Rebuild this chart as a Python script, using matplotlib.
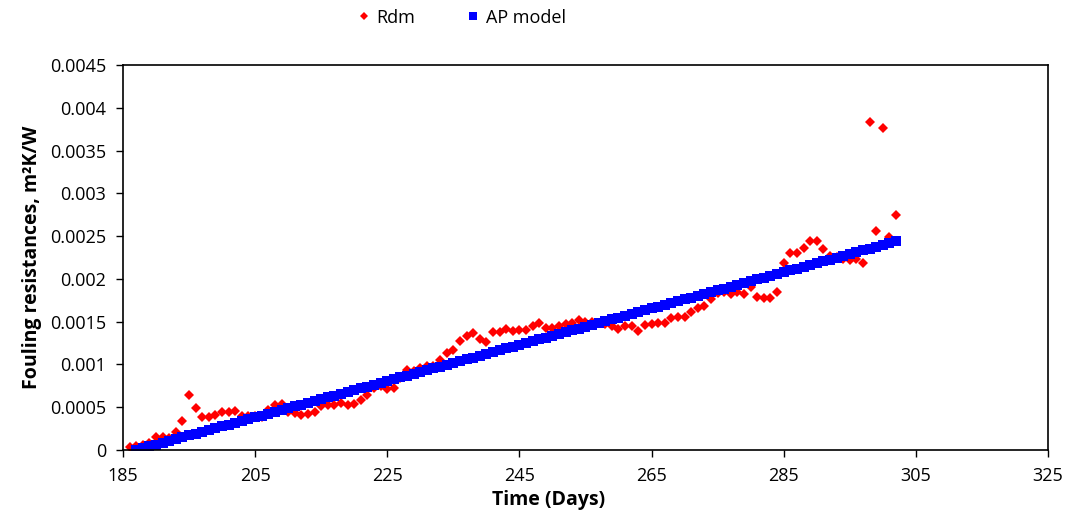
import numpy as np
import matplotlib
matplotlib.use('Agg')
import matplotlib.pyplot as plt
from matplotlib.ticker import FuncFormatter

plt.rcParams['font.family'] = ['Open Sans', 'DejaVu Sans']

# measured fouling resistance (Rdm), one value per day
rdm_days = list(range(186, 303))
rdm = [0.00004, 0.00005, 0.00006, 0.00008, 0.000156, 0.000156, 0.00014, 0.00021, 0.00034, 0.00064,
       0.00049, 0.00039, 0.00039, 0.00041, 0.00044, 0.00044, 0.00046, 0.00040, 0.00040, 0.00040,
       0.00039, 0.00047, 0.00053, 0.00054, 0.00044, 0.00043, 0.00041, 0.00042, 0.00045, 0.00052,
       0.00053, 0.00053, 0.00055, 0.00053, 0.00054, 0.00059, 0.00064, 0.00073, 0.00075, 0.00071,
       0.00073, 0.00084, 0.00094, 0.00092, 0.00096, 0.00098, 0.00098, 0.00105, 0.00113, 0.00117,
       0.00127, 0.00133, 0.00137, 0.00130, 0.00126, 0.00138, 0.00138, 0.00141, 0.00139, 0.00140,
       0.00140, 0.00145, 0.00148, 0.00143, 0.00143, 0.00145, 0.00147, 0.00149, 0.00152, 0.00150,
       0.00150, 0.00149, 0.00147, 0.00145, 0.00141, 0.00145, 0.00145, 0.00139, 0.00146, 0.00147,
       0.00148, 0.00148, 0.00154, 0.00156, 0.00156, 0.00161, 0.00166, 0.00168, 0.00177, 0.00183,
       0.00185, 0.00182, 0.00185, 0.00182, 0.00191, 0.00179, 0.00178, 0.00178, 0.00185, 0.00219,
       0.00230, 0.00230, 0.00236, 0.00244, 0.00244, 0.00235, 0.00227, 0.00226, 0.00223, 0.00222,
       0.00223, 0.00219, 0.00383, 0.00256, 0.00376, 0.00249, 0.00275]

# AP model values, one per day
ap_days = list(range(187, 303))
ap = [0.000000, 0.000021, 0.000042, 0.000064, 0.000085, 0.000106, 0.000127, 0.000148, 0.000170, 0.000191,
      0.000212, 0.000233, 0.000254, 0.000276, 0.000297, 0.000318, 0.000339, 0.000360, 0.000382, 0.000403,
      0.000424, 0.000445, 0.000466, 0.000488, 0.000509, 0.000530, 0.000551, 0.000572, 0.000594, 0.000615,
      0.000636, 0.000657, 0.000678, 0.000700, 0.000721, 0.000742, 0.000763, 0.000784, 0.000806, 0.000827,
      0.000848, 0.000869, 0.000890, 0.000912, 0.000933, 0.000954, 0.000975, 0.000996, 0.001018, 0.001039,
      0.001060, 0.001081, 0.001102, 0.001124, 0.001145, 0.001166, 0.001187, 0.001208, 0.001230, 0.001251,
      0.001272, 0.001293, 0.001314, 0.001336, 0.001357, 0.001378, 0.001399, 0.001420, 0.001442, 0.001463,
      0.001484, 0.001505, 0.001526, 0.001548, 0.001569, 0.001590, 0.001611, 0.001632, 0.001654, 0.001675,
      0.001696, 0.001717, 0.001738, 0.001760, 0.001781, 0.001802, 0.001823, 0.001844, 0.001866, 0.001887,
      0.001908, 0.001929, 0.001950, 0.001972, 0.001993, 0.002014, 0.002035, 0.002056, 0.002078, 0.002099,
      0.002120, 0.002141, 0.002162, 0.002184, 0.002205, 0.002226, 0.002247, 0.002268, 0.002290, 0.002311,
      0.002332, 0.002353, 0.002374, 0.002396, 0.002417, 0.002438]

xticks = [185, 205, 225, 245, 265, 285, 305, 325]
yticks = [0, 0.0005, 0.001, 0.0015, 0.002, 0.0025, 0.003, 0.0035, 0.004, 0.0045]

fig = plt.figure(figsize=(10.71, 5.24), dpi=100)
ax = fig.add_axes([0.1148, 0.1412, 0.8637, 0.7348])

ax.plot(rdm_days, rdm, linestyle='none', marker='D', markersize=5.2,
        color='#ff0000', markeredgewidth=0, label='Rdm')
ax.plot(ap_days, ap, linestyle='none', marker='s', markersize=7,
        color='#0000ff', markeredgewidth=0, label='AP model')

ax.set_xlim(185, 325)
ax.set_ylim(0, 0.0045)
ax.set_xticks(xticks)
ax.set_yticks(yticks)
ax.yaxis.set_major_formatter(FuncFormatter(lambda v, p: '{:g}'.format(round(v, 6))))
ax.tick_params(direction='out', length=5, width=1, labelsize=13, pad=7)
for s in ax.spines.values():
    s.set_linewidth(1.2)

ax.set_xlabel('Time (Days)', fontsize=14, fontweight='bold', labelpad=5)
ax.xaxis.set_label_coords(0.46, -0.105)
ax.set_ylabel('Fouling resistances, m²K/W', fontsize=14, fontweight='bold', labelpad=6)

fig.legend(loc='center', bbox_to_anchor=(0.43, 0.966), ncol=2, frameon=False,
           fontsize=13, handletextpad=0.2, columnspacing=2.7, markerscale=0.85,
           handlelength=1.0)

fig.savefig('out.png', dpi=100)
